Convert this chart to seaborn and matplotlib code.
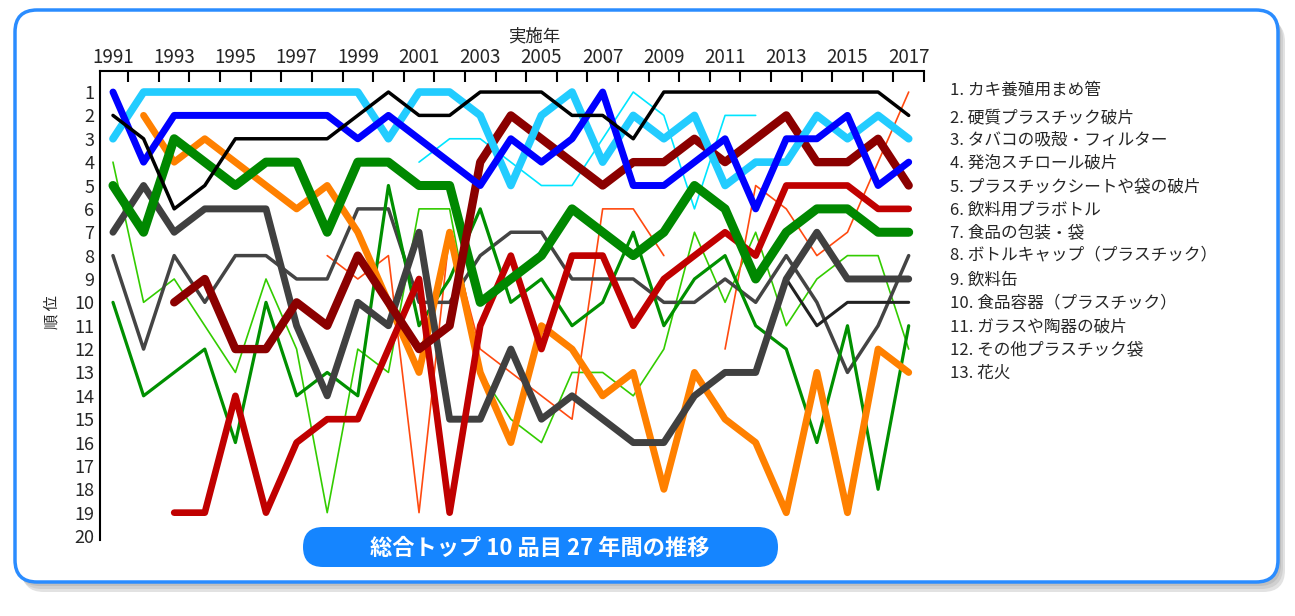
import numpy as np
import pandas as pd
import matplotlib
matplotlib.use('Agg')
import matplotlib.pyplot as plt
from matplotlib.patches import FancyBboxPatch
from matplotlib.ticker import NullFormatter
import seaborn as sns

sns.set_style('white')
plt.rcParams['font.family'] = ['Noto Sans CJK JP', 'DejaVu Sans']

N = np.nan
years = list(range(1991, 2018))

# rank per year (NaN = not in the list that year)
light_green = [4, 10, 9, 11, 13, 9, 12, 19, 12, 13, 6, 6, 13, 15, 16, 13, 13, 14, 12, 7, 10, 7, 11, 9, 8, 8, 12]
cyan_thin = [N] * 10 + [4, 3, 3, 4, 5, 5, 3, 1, 2, 6, 2, 2] + [N] * 5
orange_red = [N] * 7 + [8, 9, 8, 19, 7, 12, 13, 14, 15, 6, 6, 8, N, 12, 5, 6, 8, 7, 4, 1]
gray_med = [8, 12, 8, 10, 8, 8, 9, 9, 6, 6, 10, 10, 8, 7, 7, 9, 9, 9, 10, 10, 9, 10, 8, 10, 13, 11, 8]
green_med = [10, 14, 13, 12, 16, 10, 14, 13, 14, 5, 11, 9, 6, 10, 9, 11, 10, 7, 11, 9, 8, 11, 12, 16, 11, 18, 11]
black_2 = [N] * 22 + [9, 11, 10, 10, 10]
orange = [N, 2, 4, 3, 4, 5, 6, 5, 7, 10, 13, 7, 13, 16, 11, 12, 14, 13, 18, 13, 15, 16, 19, 13, 19, 12, 13]
gray_thick = [7, 5, 7, 6, 6, 6, 11, 14, 10, 11, 7, 15, 15, 12, 15, 14, 15, 16, 16, 14, 13, 13, 9, 7, 9, 9, 9]
red = [N, N, 19, 19, 14, 19, 16, 15, 15, 12, 9, 19, 11, 8, 12, 8, 8, 11, 9, 8, 7, 8, 5, 5, 5, 6, 6]
green_thick = [5, 7, 3, 4, 5, 4, 4, 7, 4, 4, 5, 5, 10, 9, 8, 6, 7, 8, 7, 5, 6, 9, 7, 6, 6, 7, 7]
dark_red = [N, N, 10, 9, 12, 12, 10, 11, 8, 10, 12, 11, 4, 2, 3, 4, 5, 4, 4, 3, 4, 3, 2, 4, 4, 3, 5]
cyan_thick = [3, 1, 1, 1, 1, 1, 1, 1, 1, 3, 1, 1, 2, 5, 2, 1, 4, 2, 3, 2, 5, 4, 4, 2, 3, 2, 3]
blue = [1, 4, 2, 2, 2, 2, 2, 2, 3, 2, 3, 4, 5, 3, 4, 3, 1, 5, 5, 4, 3, 6, 3, 3, 2, 5, 4]
black = [2, 3, 6, 5, 3, 3, 3, 3, 2, 1, 2, 2, 1, 1, 1, 2, 2, 3, 1, 1, 1, 1, 1, 1, 1, 1, 2]

legend_items = [
    '1. カキ養殖用まめ管',
    '2. 硬質プラスチック破片',
    '3. タバコの吸殻・フィルター',
    '4. 発泡スチロール破片',
    '5. プラスチックシートや袋の破片',
    '6. 飲料用プラボトル',
    '7. 食品の包装・袋',
    '8. ボトルキャップ（プラスチック）',
    '9. 飲料缶',
    '10. 食品容器（プラスチック）',
    '11. ガラスや陶器の破片',
    '12. その他プラスチック袋',
    '13. 花火',
]

# drawing order: thin lines below, thick lines on top
series = [
    (light_green, '#33cc00', 1.2),
    (cyan_thin, '#00e5ff', 1.2),
    (orange_red, '#ff4a10', 1.2),
    (gray_med, '#444444', 2.5),
    (green_med, '#009000', 2.3),
    (black_2, '#222222', 2.2),
    (orange, '#ff8000', 5.0),
    (gray_thick, '#404040', 5.0),
    (red, '#c00000', 4.8),
    (green_thick, '#008800', 6.5),
    (dark_red, '#8b0000', 6.0),
    (cyan_thick, '#22ccff', 5.5),
    (blue, '#0000ff', 5.0),
    (black, '#000000', 2.5),
]

fig = plt.figure(figsize=(12.95, 6.16), dpi=100)

# background layer in pixel units: frame, shadow, banner, texts
bg = fig.add_axes([0, 0, 1, 1], zorder=0)
bg.set_xlim(0, 1295)
bg.set_ylim(616, 0)
bg.axis('off')
for dx, dy, c in [(7, 10, '#e2e2e2'), (5, 7, '#d0d0d0'), (3, 4, '#bfbfbf')]:
    bg.add_patch(FancyBboxPatch((15 + dx, 10 + dy), 1263, 572,
                                boxstyle='round,pad=0,rounding_size=22',
                                fc=c, ec='none'))
bg.add_patch(FancyBboxPatch((15, 10), 1263, 572, boxstyle='round,pad=0,rounding_size=22',
                            fc='white', ec='#2a8cff', lw=2.5))
bg.add_patch(FancyBboxPatch((303, 527), 475, 40, boxstyle='round,pad=0,rounding_size=20',
                            fc='#1585ff', ec='none'))
bg.text(540, 548, '総合トップ 10 品目 27 年間の推移', color='white', fontsize=16,
        fontweight='bold', ha='center', va='center')
bg.text(534, 36, '実施年', fontsize=12.5, ha='center', va='center')
bg.text(52, 312, '順 位', fontsize=11, rotation=90, ha='center', va='center')
legend_y = [90, 118, 140, 163, 187, 210, 233, 255, 280, 303, 327, 350, 373]
for txt, y in zip(legend_items, legend_y):
    bg.text(950, y, txt, fontsize=12, ha='left', va='center')

# chart
ax = fig.add_axes([100 / 1295, 1 - 540 / 616, 824 / 1295, 469 / 616], zorder=1)
ax.set_facecolor('none')

for values, color, lw in series:
    s = pd.Series(values, index=years)
    seg_id = s.isna().cumsum()
    for _, seg in s.dropna().groupby(seg_id[s.notna()]):
        sns.lineplot(x=seg.index, y=seg.values, ax=ax, color=color, linewidth=lw,
                     solid_capstyle='round', solid_joinstyle='round')

sns.despine(ax=ax, top=False, right=True, bottom=True, left=False)
for side in ['top', 'left']:
    ax.spines[side].set_linewidth(1.5)
    ax.spines[side].set_color('black')

ax.set_xlim(1990.576, 2017.5)
ax.set_ylim(20.17, 0.10)
ax.set_xticks(np.arange(1991.5, 2018, 1))
ax.xaxis.set_major_formatter(NullFormatter())
ax.set_xticks(range(1991, 2018, 2), minor=True)
ax.set_xticklabels([str(y) for y in range(1991, 2018, 2)], minor=True)
ax.tick_params(axis='x', which='major', direction='in', length=8, width=1.5,
               top=True, bottom=False, labeltop=False, labelbottom=False, color='black')
ax.tick_params(axis='x', which='minor', length=0, top=True, bottom=False,
               labeltop=True, labelbottom=False, pad=2, labelsize=13.5)
ax.set_yticks(range(1, 21))
ax.set_yticklabels([str(i) for i in range(1, 21)])
ax.tick_params(axis='y', length=0, pad=4, labelsize=13)
ax.set_xlabel('')
ax.set_ylabel('')

fig.savefig('out.png', dpi=100)
